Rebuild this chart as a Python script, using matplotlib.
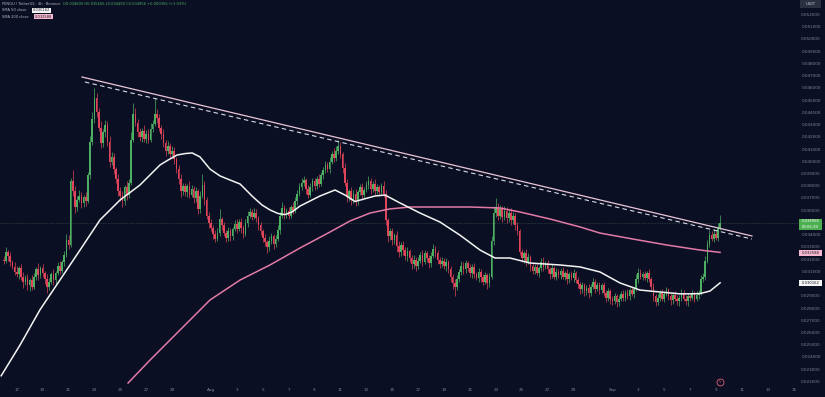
import numpy as np
import pandas as pd
import matplotlib
matplotlib.use("Agg")
import matplotlib.pyplot as plt
import matplotlib.transforms as mtransforms
from matplotlib.patches import Rectangle

# ==== 1. data (prices in 0.001 USDT, 4h candles) ====
first_candle = "2025-07-16 00:00"
day0 = "2025-07-17"          # x axis = days since this date
open_first = 32.0

closes = [
    31.9, 32.6, 32.3, 31.8, 31.4, 31.0,  # Jul 16
    30.8, 31.3, 30.6, 30.2, 30.5, 29.9,  # Jul 17
    30.3, 29.8, 30.6, 31.2, 30.7, 31.3,  # Jul 18
    30.9, 30.4, 29.8, 30.2, 30.8, 30.3,  # Jul 19
    30.9, 31.5, 31.1, 31.8, 32.4, 33.6,  # Jul 20
    33.2, 38.4, 37.6, 36.3, 36.9, 37.2,  # Jul 21
    36.6, 37.1, 36.8, 38.9, 41.6, 43.5,  # Jul 22
    45.2, 44.1, 42.8, 41.5, 42.4, 43.0,  # Jul 23
    41.6, 40.0, 40.4, 39.4, 38.6, 37.6,  # Jul 24
    37.2, 36.8, 37.9, 37.3, 38.3, 41.8,  # Jul 25
    43.9, 43.2, 42.4, 42.0, 42.5, 41.9,  # Jul 26
    42.3, 41.8, 42.7, 43.1, 43.9, 43.6,  # Jul 27
    42.8, 42.3, 41.5, 40.9, 41.3, 40.6,  # Jul 28
    40.9, 40.2, 39.4, 38.6, 37.6, 38.0,  # Jul 29
    37.5, 38.0, 37.3, 37.8, 37.0, 37.6,  # Jul 30
    36.1, 37.2, 38.1, 36.9, 35.6, 35.0,  # Jul 31
    34.6, 34.1, 33.7, 34.2, 35.3, 34.8,  # Aug 1
    34.2, 33.8, 34.3, 33.9, 34.5, 34.9,  # Aug 2
    34.5, 35.1, 34.6, 34.1, 35.0, 35.6,  # Aug 3
    35.9, 35.5, 35.8, 35.4, 34.8, 34.3,  # Aug 4
    33.8, 33.4, 33.0, 33.5, 33.9, 33.3,  # Aug 5
    33.7, 34.4, 35.6, 36.2, 35.7, 36.0,  # Aug 6
    35.6, 36.3, 36.0, 36.8, 37.4, 37.9,  # Aug 7
    38.3, 38.5, 37.8, 37.3, 37.9, 38.4,  # Aug 8
    38.0, 38.6, 38.2, 38.9, 39.3, 39.7,  # Aug 9
    39.4, 40.0, 40.6, 40.3, 40.9, 41.3,  # Aug 10
    40.6, 39.5, 38.3, 37.1, 37.6, 36.9,  # Aug 11
    37.4, 36.8, 37.5, 37.9, 37.3, 37.7,  # Aug 12
    38.1, 38.4, 37.8, 38.2, 37.6, 37.9,  # Aug 13
    37.5, 38.0, 37.4, 35.2, 33.9, 34.3,  # Aug 14
    33.6, 34.0, 33.1, 32.6, 33.2, 32.8,  # Aug 15
    32.3, 32.7, 32.1, 31.6, 32.0, 31.5,  # Aug 16
    31.9, 32.4, 31.8, 32.5, 32.1, 31.7,  # Aug 17
    32.3, 32.9, 32.5, 32.0, 31.6, 31.9,  # Aug 18
    31.5, 31.8, 31.2, 30.6, 30.1, 29.8,  # Aug 19
    30.4, 31.0, 31.5, 31.2, 31.7, 31.3,  # Aug 20
    30.9, 31.4, 30.8, 30.5, 31.0, 30.6,  # Aug 21
    30.2, 30.7, 30.1, 30.6, 33.5, 35.8,  # Aug 22
    36.3, 35.6, 36.1, 35.5, 36.0, 35.4,  # Aug 23
    35.8, 35.2, 35.6, 34.8, 34.3, 32.6,  # Aug 24
    32.1, 32.5, 31.8, 32.2, 31.5, 31.1,  # Aug 25
    31.4, 30.9, 31.3, 31.8, 31.4, 31.7,  # Aug 26
    31.2, 30.8, 31.3, 30.6, 31.0, 30.7,  # Aug 27
    31.1, 30.6, 30.9, 30.4, 30.8, 30.5,  # Aug 28
    30.9, 30.3, 30.0, 29.6, 29.9, 29.4,  # Aug 29
    29.7, 29.3, 29.8, 30.2, 29.6, 29.9,  # Aug 30
    29.5, 29.9, 29.3, 28.9, 29.4, 28.8,  # Aug 31
    28.6, 29.0, 28.5, 28.8, 29.2, 28.9,  # Sep 1
    29.3, 29.0, 29.5, 29.2, 29.6, 30.4,  # Sep 2
    30.9, 30.6, 30.8, 30.5, 30.9, 30.4,  # Sep 3
    29.8, 29.0, 28.5, 28.9, 29.3, 28.8,  # Sep 4
    29.2, 29.5, 29.0, 28.7, 29.1, 28.8,  # Sep 5
    28.6, 28.9, 29.3, 28.8, 28.6, 29.0,  # Sep 6
    28.9, 29.2, 28.8, 29.1, 29.3, 30.4,  # Sep 7
    30.6, 31.9, 33.3, 34.0, 33.7, 34.1,  # Sep 8
    33.8, 34.6, 34.956,                  # Sep 9
]

# wick length above / below the body
wick_up = [
    0.3, 0.4, 0.2, 0.3, 0.2, 0.4,  0.5, 0.2, 0.3, 0.4, 0.2, 0.3,
    0.2, 0.4, 0.3, 0.2, 0.5, 0.2,  0.3, 0.2, 0.4, 0.3, 0.2, 0.4,
    0.2, 0.3, 0.4, 0.2, 0.3, 0.5,  0.4, 0.3, 0.9, 0.4, 0.3, 0.5,
    0.3, 0.2, 0.4, 0.3, 0.5, 0.6,  0.8, 0.4, 0.3, 0.5, 0.3, 0.4,
    0.3, 0.5, 0.4, 0.3, 0.2, 0.4,  0.3, 0.4, 0.2, 0.5, 0.3, 0.6,
    0.9, 0.5, 0.3, 0.4, 0.3, 0.5,  0.3, 0.4, 0.5, 0.3, 1.3, 0.4,
    0.3, 0.2, 0.4, 0.3, 0.4, 0.2,  0.4, 0.3, 0.2, 0.3, 0.4, 0.3,
    0.3, 0.2, 0.4, 0.3, 0.2, 0.3,  0.2, 0.4, 0.9, 0.3, 0.2, 0.3,
    0.3, 0.2, 0.3, 0.4, 0.8, 0.2,  0.3, 0.2, 0.4, 0.3, 0.2, 0.3,
    0.4, 0.2, 0.3, 0.2, 0.3, 0.4,  0.3, 0.2, 0.4, 0.3, 0.2, 0.3,
    0.2, 0.3, 0.2, 0.4, 0.3, 0.2,  0.3, 0.4, 0.3, 0.5, 0.3, 0.2,
    0.3, 0.2, 0.4, 0.3, 0.3, 0.4,  0.4, 0.3, 0.2, 0.3, 0.4, 0.3,
    0.3, 0.2, 0.4, 0.3, 0.3, 0.4,  0.3, 0.4, 0.3, 0.5, 0.4, 0.5,
    0.3, 0.2, 0.4, 0.3, 0.2, 0.3,  0.3, 0.4, 0.2, 0.3, 0.4, 0.2,
    0.3, 0.4, 0.3, 0.2, 0.4, 0.3,  0.2, 0.3, 0.4, 0.3, 0.2, 0.3,
    0.3, 0.2, 0.3, 0.4, 0.2, 0.3,  0.2, 0.3, 0.2, 0.3, 0.4, 0.2,
    0.3, 0.2, 0.4, 0.3, 0.2, 0.3,  0.3, 0.4, 0.2, 0.3, 0.2, 0.3,
    0.2, 0.3, 0.2, 0.3, 0.2, 0.3,  0.3, 0.2, 0.4, 0.3, 0.3, 0.2,
    0.3, 0.2, 0.3, 0.2, 0.3, 0.2,  0.2, 0.3, 0.2, 0.3, 0.4, 0.6,
    0.7, 0.3, 0.4, 0.3, 0.4, 0.3,  0.3, 0.4, 0.3, 0.2, 0.3, 0.2,
    0.3, 0.2, 0.4, 0.3, 0.2, 0.3,  0.2, 0.3, 0.2, 0.3, 0.4, 0.2,
    0.3, 0.2, 0.3, 0.2, 0.3, 0.2,  0.2, 0.3, 0.2, 0.3, 0.2, 0.3,
    0.3, 0.2, 0.3, 0.2, 0.3, 0.2,  0.2, 0.3, 0.2, 0.3, 0.2, 0.3,
    0.3, 0.2, 0.3, 0.2, 0.3, 0.2,  0.2, 0.3, 0.2, 0.3, 0.2, 0.3,
    0.2, 0.3, 0.2, 0.3, 0.2, 0.4,  0.4, 0.3, 0.2, 0.3, 0.2, 0.3,
    0.2, 0.3, 0.2, 0.3, 0.2, 0.3,  0.2, 0.3, 0.2, 0.3, 0.2, 0.3,
    0.3, 0.2, 0.3, 0.2, 0.3, 0.2,  0.2, 0.3, 0.2, 0.3, 0.2, 0.3,
    0.3, 0.4, 0.3, 0.4, 0.3, 0.4,  0.3, 0.4, 0.7,
]
wick_dn = [
    0.3, 0.2, 0.4, 0.3, 0.2, 0.3,  0.2, 0.4, 0.3, 0.5, 0.3, 0.4,
    0.5, 0.3, 0.2, 0.3, 0.4, 0.2,  0.3, 0.4, 0.5, 0.3, 0.2, 0.4,
    0.3, 0.2, 0.3, 0.2, 0.3, 0.2,  0.3, 0.2, 0.4, 0.5, 0.3, 0.2,
    0.4, 0.3, 0.4, 0.2, 0.3, 0.2,  0.3, 0.4, 0.3, 0.4, 0.3, 0.4,
    0.3, 0.4, 0.3, 0.4, 0.3, 0.4,  0.4, 0.5, 0.3, 0.4, 0.3, 0.2,
    0.2, 0.3, 0.4, 0.3, 0.4, 0.3,  0.4, 0.3, 0.2, 0.3, 0.2, 0.4,
    0.3, 0.4, 0.3, 0.4, 0.3, 0.4,  0.3, 0.4, 0.3, 0.4, 0.5, 0.3,
    0.3, 0.4, 0.3, 0.2, 0.4, 0.3,  0.4, 0.3, 0.2, 0.4, 0.3, 0.4,
    0.3, 0.4, 0.3, 0.2, 0.3, 0.4,  0.3, 0.4, 0.3, 0.4, 0.3, 0.2,
    0.3, 0.2, 0.4, 0.3, 0.2, 0.3,  0.2, 0.3, 0.2, 0.3, 0.4, 0.3,
    0.4, 0.3, 0.5, 0.3, 0.2, 0.4,  0.3, 0.2, 0.3, 0.2, 0.4, 0.3,
    0.3, 0.2, 0.3, 0.2, 0.3, 0.2,  0.2, 0.3, 0.4, 0.3, 0.2, 0.3,
    0.3, 0.2, 0.3, 0.2, 0.3, 0.2,  0.2, 0.3, 0.2, 0.3, 0.2, 0.3,
    0.3, 0.4, 0.3, 0.4, 0.3, 0.4,  0.3, 0.4, 0.3, 0.2, 0.4, 0.3,
    0.2, 0.3, 0.4, 0.3, 0.3, 0.2,  0.3, 0.2, 0.3, 0.4, 0.5, 0.3,
    0.4, 0.3, 0.5, 0.4, 0.3, 0.4,  0.3, 0.4, 0.3, 0.4, 0.3, 0.4,
    0.3, 0.2, 0.3, 0.2, 0.3, 0.4,  0.3, 0.2, 0.3, 0.4, 0.3, 0.2,
    0.3, 0.4, 0.3, 0.4, 0.5, 0.8,  0.3, 0.2, 0.3, 0.4, 0.3, 0.2,
    0.3, 0.4, 0.3, 0.2, 0.3, 0.4,  0.3, 0.2, 0.5, 0.3, 0.2, 0.3,
    0.3, 0.4, 0.3, 0.4, 0.3, 0.4,  0.3, 0.4, 0.3, 0.4, 0.3, 0.2,
    0.3, 0.4, 0.3, 0.2, 0.4, 0.3,  0.3, 0.2, 0.3, 0.2, 0.3, 0.2,
    0.3, 0.4, 0.3, 0.2, 0.3, 0.2,  0.3, 0.2, 0.3, 0.4, 0.3, 0.2,
    0.3, 0.2, 0.3, 0.4, 0.3, 0.4,  0.3, 0.4, 0.3, 0.2, 0.3, 0.2,
    0.3, 0.2, 0.3, 0.4, 0.3, 0.4,  0.3, 0.2, 0.4, 0.3, 0.2, 0.3,
    0.3, 0.2, 0.3, 0.2, 0.3, 0.2,  0.3, 0.2, 0.3, 0.2, 0.3, 0.2,
    0.3, 0.4, 0.3, 0.2, 0.3, 0.2,  0.3, 0.2, 0.3, 0.4, 0.3, 0.2,
    0.3, 0.4, 0.3, 0.2, 0.3, 0.4,  0.3, 0.2, 0.3, 0.2, 0.3, 0.2,
    0.2, 0.3, 0.2, 0.3, 0.2, 0.3,  0.2, 0.3, 0.2,
]

# moving averages (days since Jul 17, price)
sma50_days = [-1.2, 0.25, 1.8, 3.34, 4.89, 6.43, 7.98, 9.52, 11.07, 11.69, 12.38,
              13.0, 13.55, 14.15, 14.54, 14.93, 15.7, 16.47, 17.25, 18.25, 18.95,
              19.56, 20.18, 20.72, 21.26, 21.88, 23.42, 24.58, 25.35, 26.12, 27.67,
              28.44, 29.6, 31.14, 32.69, 34.23, 35.78, 36.94, 38.09, 39.64, 41.95,
              43.5, 45.04, 46.59, 48.13, 49.68, 51.22, 52.0, 52.77, 53.54, 54.32]
sma50_vals = [22.5, 25.0, 27.9, 30.33, 32.78, 35.24, 36.87, 38.1, 39.74, 40.14, 40.55,
              40.67, 40.72, 40.4, 39.9, 39.4, 38.84, 38.51, 38.18, 37.12, 36.46,
              36.06, 35.77, 35.68, 35.89, 36.38, 37.2, 37.69, 37.28, 36.75, 37.2,
              37.28, 36.63, 35.81, 35.07, 34.0, 32.78, 32.13, 32.13, 31.72, 31.56,
              31.4, 30.99, 30.09, 29.51, 29.35, 29.2, 29.2, 29.22, 29.43, 30.1]
sma200_days = [8.6, 10.3, 12.61, 14.93, 17.25, 19.56, 21.88, 24.2, 25.74, 27.3, 28.8,
               30.37, 32.69, 35.0, 37.32, 38.87, 41.18, 43.5, 45.04, 47.59, 50.22,
               52.77, 54.32]
sma200_vals = [21.91, 23.79, 26.24, 28.7, 30.33, 31.56, 32.95, 34.26, 35.16, 35.81, 36.14,
               36.3, 36.3, 36.3, 36.22, 35.89, 35.32, 34.67, 34.17, 33.68, 33.19,
               32.78, 32.59]

# descending trendline (solid) and its dashed twin
trend_days = [5.04, 56.78]
trend_vals = [46.93, 33.93]
trend2_days = [5.27, 56.78]
trend2_vals = [46.52, 33.68]

price_ticks = [52, 51, 50, 49, 48, 47, 46, 45, 44, 43, 42, 41, 40, 39, 38, 37, 36,
               34, 33, 32, 31, 29, 28, 27, 26, 25, 24, 23, 22]
tick_dates = ["2025-07-17", "2025-07-19", "2025-07-21", "2025-07-23", "2025-07-25",
              "2025-07-27", "2025-07-29", "2025-08-01", "2025-08-03", "2025-08-05",
              "2025-08-07", "2025-08-09", "2025-08-11", "2025-08-13", "2025-08-15",
              "2025-08-17", "2025-08-19", "2025-08-21", "2025-08-23", "2025-08-25",
              "2025-08-27", "2025-08-29", "2025-09-01", "2025-09-03", "2025-09-05",
              "2025-09-07", "2025-09-09", "2025-09-11", "2025-09-13", "2025-09-15"]
tick_labels = ["17", "19", "21", "23", "25", "27", "29", "Aug", "3", "5", "7", "9",
               "11", "13", "15", "17", "19", "21", "23", "25", "27", "29", "Sep",
               "3", "5", "7", "9", "11", "13", "15"]

sma50_last = "0.030162"
sma200_last = "0.032588"
countdown = "03:06:39"

# ==== 2. style ====
bg = "#0b0f23"
green = "#4caf62"
red = "#e0455a"
txt = "#7f8596"
pink = "#e27aa6"
W, H = 825, 397

fig = plt.figure(figsize=(W / 100, H / 100), dpi=100, facecolor=bg)
ax = fig.add_axes([0, 0, 1, 1])
ax.set_facecolor(bg)
ax.set_xlim(-1.29, 62.42)
ax.set_ylim(0.020765, 0.053226)
ax.axis("off")

# blended transforms: x in axes fraction / y in data, and x in data / y in axes fraction
tr_xa = mtransforms.blended_transform_factory(ax.transAxes, ax.transData)
tr_ya = mtransforms.blended_transform_factory(ax.transData, ax.transAxes)

def fx(px):
    return px / W

def fy(py):
    return 1 - py / H

# ==== 3. candles ====
times = pd.date_range(first_candle, periods=len(closes), freq="4h")
x = ((times - pd.Timestamp(day0)) / pd.Timedelta(days=1)).to_numpy()
c = np.array(closes) / 1000
o = np.array([open_first] + closes[:-1]) / 1000
hi = np.maximum(o, c) + np.array(wick_up) / 1000
lo = np.minimum(o, c) - np.array(wick_dn) / 1000
cols = np.where(c >= o, green, red)

# current price line
ax.axhline(c[-1], color="#3d5a4c", lw=0.5, ls=(0, (1, 1.5)), zorder=1)

ax.vlines(x, lo, hi, colors=cols, lw=0.5, zorder=2)
ax.bar(x, np.maximum(np.abs(c - o), 0.00004), bottom=np.minimum(o, c), width=0.125,
       color=cols, linewidth=0, zorder=3)

# ==== 4. moving averages + trendline ====
ax.plot(sma200_days, np.array(sma200_vals) / 1000, color=pink, lw=1.1,
        solid_joinstyle="round", zorder=4)
ax.plot(sma50_days, np.array(sma50_vals) / 1000, color="#f4f4f4", lw=1.1,
        solid_joinstyle="round", zorder=4)
ax.plot(trend_days, np.array(trend_vals) / 1000, color="#e9c6d6", lw=0.9, zorder=5)
ax.plot(trend2_days, np.array(trend2_vals) / 1000, color="#d9d9e6", lw=0.8,
        dashes=(4, 3), zorder=5)

# ==== 5. price scale ====
for p in price_ticks:
    ax.text(fx(811), p / 1000, f"{p / 1000:.6f}", transform=tr_xa, ha="center",
            va="center", fontsize=3, color=txt)

def price_box(py0, py1, face, lines, tcol):
    ax.add_patch(Rectangle((fx(799), fy(py1)), fx(23), (py1 - py0) / H, facecolor=face,
                           edgecolor="none", transform=ax.transAxes, zorder=6))
    step = (py1 - py0) / len(lines)
    for k, s in enumerate(lines):
        ax.text(fx(810.5), fy(py0 + step * (k + 0.5)), s, transform=ax.transAxes,
                ha="center", va="center", fontsize=2.7, color=tcol, zorder=7)

price_box(218.5, 229.5, "#4caf50", [f"{c[-1]:.6f}", countdown], "white")
price_box(249.5, 255.5, "#f5b8cf", [sma200_last], "#1c1c2a")
price_box(279.5, 285.5, "#f4f4f4", [sma50_last], "#1c1c2a")

# USDT box
ax.add_patch(Rectangle((fx(800), fy(8)), fx(21), 7.5 / H, facecolor="#2b3040",
                       edgecolor="none", transform=ax.transAxes))
ax.text(fx(810.5), fy(4.3), "USDT", transform=ax.transAxes, ha="center", va="center",
        fontsize=2.6, color="#c8cad2")

# ==== 6. time scale ====
tick_x = ((pd.to_datetime(tick_dates) - pd.Timestamp(day0)) / pd.Timedelta(days=1)).to_numpy()
for tx, lab in zip(tick_x, tick_labels):
    ax.text(tx, fy(390), lab, transform=tr_ya, ha="center", va="center",
            fontsize=3, color=txt)

# event marker near Sep 9
ax.plot([fx(720)], [fy(382)], marker="o", ms=5, mfc="none", mec="#e0607e", mew=0.6,
        transform=ax.transAxes)
ax.text(fx(720), fy(382), "ϟ", transform=ax.transAxes, ha="center", va="center",
        fontsize=2.5, color="#e0607e")

# ==== 7. legend ====
chg = c[-1] - o[-1]
ax.text(fx(2), fy(3.8), "PENGU / TetherUS · 4h · Binance", transform=ax.transAxes,
        ha="left", va="center", fontsize=2.6, color="#b2b5be")
ax.text(fx(63), fy(3.8),
        f"O{o[-1]:.6f} H{hi[-1]:.6f} L{lo[-1]:.6f} C{c[-1]:.6f} "
        f"+{chg:.6f} (+{chg / o[-1] * 100:.2f}%)",
        transform=ax.transAxes, ha="left", va="center", fontsize=2.6, color=green)
ax.text(fx(2), fy(10.3), "SMA 50 close", transform=ax.transAxes, ha="left",
        va="center", fontsize=2.6, color="#b2b5be")
ax.text(fx(33), fy(10.3), sma50_last, transform=ax.transAxes, ha="left", va="center",
        fontsize=2.6, color="#1c1c2a",
        bbox=dict(boxstyle="square,pad=0.15", fc="#f4f4f4", ec="none"))
ax.text(fx(2), fy(16.8), "SMA 200 close", transform=ax.transAxes, ha="left",
        va="center", fontsize=2.6, color="#b2b5be")
ax.text(fx(35), fy(16.8), sma200_last, transform=ax.transAxes, ha="left", va="center",
        fontsize=2.6, color="#1c1c2a",
        bbox=dict(boxstyle="square,pad=0.15", fc="#f5b8cf", ec="none"))

fig.savefig("out.png", dpi=100, facecolor=bg)
